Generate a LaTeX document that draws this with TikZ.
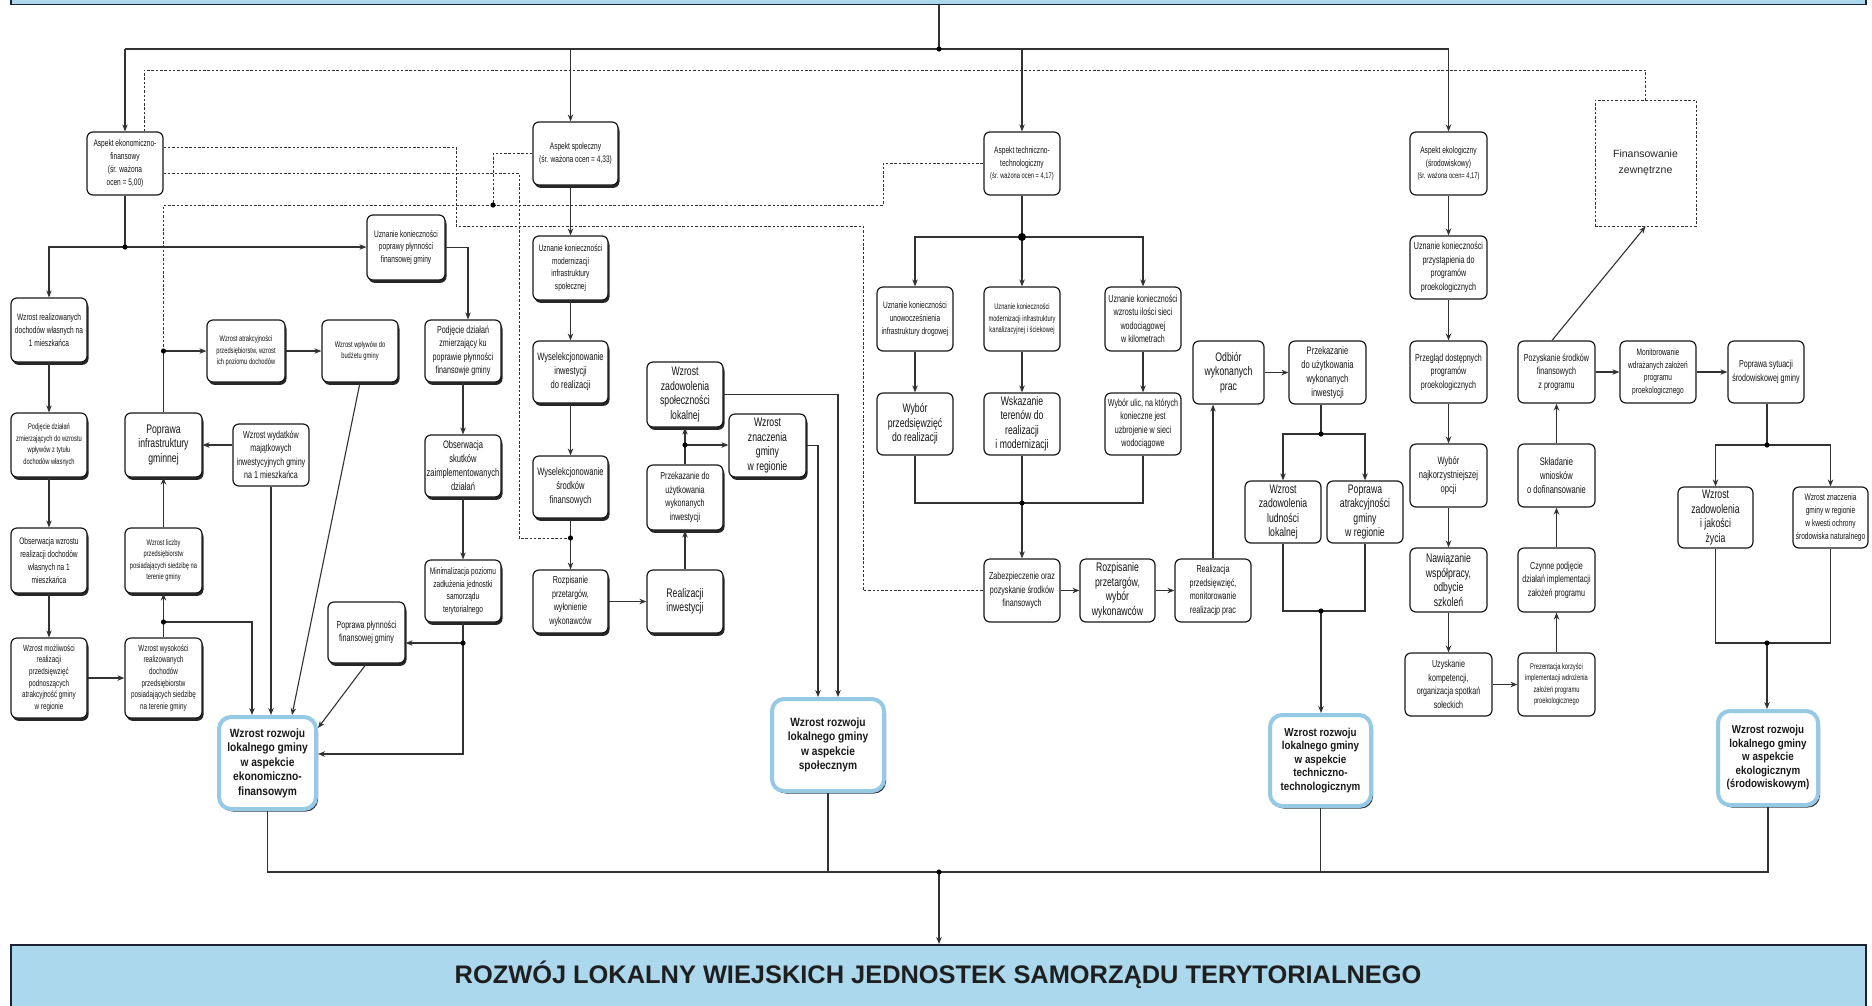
\documentclass[tikz,border=0pt]{standalone}
\usepackage{fontspec}
\setmainfont{Liberation Sans}
\newfontfamily\nsf[FakeStretch=0.7]{Liberation Sans}
\newfontfamily\bsf[FakeStretch=0.85]{Liberation Sans}
\usetikzlibrary{arrows.meta,shadows,calc}

\definecolor{bandblue}{RGB}{172,216,238}
\definecolor{bandline}{RGB}{28,36,52}
\definecolor{resline}{RGB}{150,202,228}
\definecolor{wire}{RGB}{50,50,50}

% font sizes used inside the boxes
\newcommand\dgT{\nsf\fontsize{8.2}{11.5}\selectfont}
\newcommand\dgS{\nsf\fontsize{9.4}{12.8}\selectfont}
\newcommand\dgSx{\nsf\fontsize{9}{11.6}\selectfont}
\newcommand\dgN{\nsf\fontsize{10.2}{13.5}\selectfont}
\newcommand\dgM{\nsf\fontsize{10.8}{14}\selectfont}
\newcommand\dgL{\nsf\fontsize{12.4}{14.5}\selectfont}
\newcommand\dgR{\bsf\bfseries\fontsize{12}{14.5}\selectfont}
\newcommand\dgRs{\bsf\bfseries\fontsize{11.5}{13.5}\selectfont}

\tikzset{
  box/.style 2 args={draw=black!90, line width=1.2pt, rounded corners=6pt, fill=white,
    align=center, inner sep=1pt, minimum width=#1pt, minimum height=#2pt, text=black!92},
  sbox/.style 2 args={box={#1}{#2},
    drop shadow={shadow xshift=1.5pt, shadow yshift=-2.8pt, fill=black!85, opacity=1}},
  result/.style 2 args={draw=resline, line width=4pt, rounded corners=12pt, fill=white,
    align=center, inner sep=1pt, minimum width=#1pt, minimum height=#2pt, text=black!90,
    drop shadow={shadow xshift=2pt, shadow yshift=-2.5pt, fill=black!80, opacity=1}},
  band/.style={draw=bandline, line width=1.5pt, fill=bandblue, inner sep=0pt},
  ln/.style={draw=wire, line width=1.1pt},
  arr/.style={draw=wire, line width=1.1pt, -{Stealth[length=7pt,width=5.5pt]}},
  dsh/.style={draw=wire, line width=1pt, dash pattern=on 2.5pt off 1.8pt},
}

\begin{document}
\begin{tikzpicture}[x=1pt, y=-1pt]
\useasboundingbox (0,0) rectangle (1872,1005);
\fill[white] (0,0) rectangle (1872,1005);

% ---------- bands ----------
\node[band, minimum width=1855pt, minimum height=60pt, anchor=south west] (topband) at (10,5) {};
\node[band, minimum width=1855pt, minimum height=75pt, anchor=north west] (botband) at (10,944) {};
\node[font=\bfseries\fontsize{25.4}{30}\selectfont, text=black!88] (title) at (938,975)
  {ROZWÓJ LOKALNY WIEJSKICH JEDNOSTEK SAMORZĄDU TERYTORIALNEGO};

% ---------- aspect boxes ----------
\node[box={76}{63}, font=\dgS] (a1) at (125,163.5) {Aspekt ekonomiczno-\\finansowy\\(śr. ważona\\ocen = 5,00)};
\node[sbox={85}{63}, font=\dgS] (a2) at (575.5,153.5) {Aspekt społeczny\\(śr. ważona ocen = 4,33)};
\node[box={76}{63}, font=\dgS] (a3) at (1022,163.5) {Aspekt techniczno-\\technologiczny\\{\dgT(śr. ważona ocen = 4,17)}};
\node[box={77}{63}, font=\dgS] (a4) at (1448.5,163.5) {Aspekt ekologiczny\\(środowiskowy)\\{\dgT(śr. ważona ocen= 4,17)}};
\node[dsh, minimum width=101pt, minimum height=126pt, align=center, text=black!85,
  font=\fontsize{10.5}{15.5}\selectfont] (fin) at (1645.5,163) {Finansowanie\\zewnętrzne};

% ---------- economic and financial branch ----------
\node[sbox={78}{65}, font=\dgS] (e2) at (406,247.5) {Uznanie konieczności\\poprawy płynności\\finansowej gminy};
\node[sbox={76}{64}, font=\dgS] (e1) at (49,330) {Wzrost realizowanych\\dochodów własnych na\\1 mieszkańca};
\node[sbox={76}{64}, font=\dgT] (e1b) at (49,445) {Podjęcie działań\\zmierzających do wzrostu\\wpływów z tytułu\\dochodów własnych};
\node[sbox={76}{65}, font=\dgS] (e1c) at (49,560.5) {Obserwacja wzrostu\\realizacji dochodów\\własnych na 1\\mieszkańca};
\node[sbox={76}{80}, font=\dgSx] (e1d) at (49,678) {Wzrost możliwości\\realizacji\\przedsięwzięć\\podnoszących\\atrakcyjność gminy\\w regionie};
\node[sbox={77}{80}, font=\dgSx] (e3) at (163.5,678) {Wzrost wysokości\\realizowanych\\dochodów\\przedsiębiorstw\\posiadających siedzibę\\na terenie gminy};
\node[sbox={77}{65}, font=\dgT] (e4) at (163.5,560.5) {Wzrost liczby\\przedsiębiorstw\\posiadających siedzibę na\\terenie gminy};
\node[sbox={77}{64}, font=\dgL] (e5) at (163.5,445) {Poprawa\\infrastruktury\\gminnej};
\node[sbox={78}{62}, font=\dgT] (e6) at (246,351) {Wzrost atrakcyjności\\przedsiębiorstw, wzrost\\ich poziomu dochodów};
\node[sbox={76}{62}, font=\dgT] (e7) at (360,351) {Wzrost wpływów do\\budżetu gminy};
\node[box={76}{62}, font=\dgN] (e8) at (271,455) {Wzrost wydatków\\majątkowych\\inwestycyjnych gminy\\na 1 mieszkańca};
\node[sbox={77}{61}, font=\dgN] (e9) at (366.5,632.5) {Poprawa płynności\\finansowej gminy};
\node[sbox={76}{62}, font=\dgN] (f1) at (463,351) {Podjęcie działań\\zmierzający ku\\poprawie płynności\\finansowje gminy};
\node[sbox={76}{62}, font=\dgM] (f2) at (463,466) {Obserwacja\\skutków\\zaimplementowanych\\działań};
\node[sbox={76}{62}, font=\dgS] (f3) at (463,591) {Minimalizacja poziomu\\zadłużenia jednostki\\samorządu\\terytorialnego};
\node[result={97}{92}, font=\dgR] (r1) at (267.5,763) {Wzrost rozwoju\\lokalnego gminy\\w aspekcie\\ekonomiczno-\\finansowym};

% ---------- social branch ----------
\node[sbox={75}{64}, font=\dgS] (s1) at (570.5,268) {Uznanie konieczności\\modernizacji\\infrastruktury\\społecznej};
\node[sbox={75}{62}, font=\dgM] (s2) at (570.5,372) {Wyselekcjonowanie\\inwestycji\\do realizacji};
\node[sbox={75}{62}, font=\dgM] (s3) at (570.5,487) {Wyselekcjonowanie\\środków\\finansowych};
\node[sbox={75}{63}, font=\dgN] (s4) at (570.5,601.5) {Rozpisanie\\przetargów,\\wyłonienie\\wykonawców};
\node[sbox={76}{63}, font=\dgL] (s5) at (685,601.5) {Realizacji\\inwestycji};
\node[sbox={76}{65}, font=\dgN] (s6) at (685,497.5) {Przekazanie do\\użytkowania\\wykonanych\\inwestycji};
\node[sbox={76}{65}, font=\dgL] (s7) at (685,394.5) {Wzrost\\zadowolenia\\społeczności\\lokalnej};
\node[sbox={77}{63}, font=\dgL] (s8) at (767.5,445.5) {Wzrost\\znaczenia\\gminy\\w regionie};
\node[result={112}{92}, font=\dgR] (r2) at (828,745) {Wzrost rozwoju\\lokalnego gminy\\w aspekcie\\społecznym};

% ---------- technical branch ----------
\node[box={76}{64}, font=\dgS] (t1) at (915,319) {Uznanie konieczności\\unowocześnienia\\infrastruktury drogowej};
\node[box={76}{64}, font=\dgT] (t2) at (1022,319) {Uznanie konieczności\\modernizacji infrastruktury\\kanalizacyjnej i ściekowej};
\node[box={76}{64}, font=\dgN] (t3) at (1143,319) {Uznanie konieczności\\wzrostu ilości sieci\\wodociągowej\\w kilometrach};
\node[box={76}{62}, font=\dgL] (t4) at (915,424) {Wybór\\przedsięwzięć\\do realizacji};
\node[box={76}{62}, font=\dgL] (t5) at (1022,424) {Wskazanie\\terenów do\\realizacji\\i modernizacji};
\node[box={76}{62}, font=\dgN] (t6) at (1143,424) {Wybór ulic, na których\\konieczne jest\\uzbrojenie w sieci\\wodociągowe};
\node[box={76}{63}, font=\dgN] (t7) at (1022,590.5) {Zabezpieczenie oraz\\pozyskanie środków\\finansowych};
\node[box={75}{63}, font=\dgL] (t8) at (1117.5,590.5) {Rozpisanie\\przetargów,\\wybór\\wykonawców};
\node[box={76}{63}, font=\dgN] (t9) at (1213,590.5) {Realizacja\\przedsięwzięć,\\monitorowanie\\realizacjp prac};
\node[box={71}{63}, font=\dgL] (t10) at (1228.5,372.5) {Odbiór\\wykonanych\\prac};
\node[box={77}{63}, font=\dgM] (t11) at (1327.5,372.5) {Przekazanie\\do użytkowania\\wykonanych\\inwestycji};
\node[box={76}{62}, font=\dgL] (t12) at (1283,512) {Wzrost\\zadowolenia\\ludności\\lokalnej};
\node[box={76}{62}, font=\dgL] (t13) at (1365,512) {Poprawa\\atrakcyjności\\gminy\\w regionie};
\node[result={101}{91}, font=\dgRs] (r3) at (1320.5,760.5) {Wzrost rozwoju\\lokalnego gminy\\w aspekcie\\techniczno-\\technologicznym};

% ---------- ecological branch ----------
\node[box={77}{63}, font=\dgN] (g1) at (1448.5,267.5) {Uznanie konieczności\\przystąpienia do\\programów\\proekologicznych};
\node[box={77}{62}, font=\dgN] (g2) at (1448.5,372) {Przegląd dostępnych\\programów\\proekologicznych};
\node[box={77}{63}, font=\dgM] (g3) at (1448.5,475.5) {Wybór\\najkorzystniejszej\\opcji};
\node[box={77}{64}, font=\dgL] (g4) at (1448.5,580) {Nawiązanie\\współpracy,\\odbycie\\szkoleń};
\node[box={87}{63}, font=\dgN] (g5) at (1448.5,684.5) {Uzyskanie\\kompetencji,\\organizacja spotkań\\sołeckich};
\node[box={77}{63}, font=\dgT] (g6) at (1556.5,684.5) {Prezentacja korzyści\\implementacji wdrożenia\\założeń programu\\proekologicznego};
\node[box={77}{64}, font=\dgN] (g7) at (1556.5,580) {Czynne podjęcie\\działań implementacji\\założeń programu};
\node[box={77}{63}, font=\dgM] (g8) at (1556.5,475.5) {Składanie\\wniosków\\o dofinansowanie};
\node[box={77}{62}, font=\dgN] (g9) at (1556.5,372) {Pozyskanie środków\\finansowych\\z programu};
\node[box={76}{62}, font=\dgS] (g10) at (1658,372) {Monitorowanie\\wdrażanych założeń\\programu\\proekologicznego};
\node[box={76}{62}, font=\dgN] (g11) at (1766,372) {Poprawa sytuacji\\środowiskowej gminy};
\node[box={75}{61}, font=\dgL] (g12) at (1715.5,517.5) {Wzrost\\zadowolenia\\i jakości\\życia};
\node[box={75}{61}, font=\dgS] (g13) at (1830.5,517.5) {Wzrost znaczenia\\gminy w regionie\\w kwesti ochrony\\środowiska naturalnego};
\node[result={100}{94}, font=\dgRs] (r4) at (1768,758) {Wzrost rozwoju\\lokalnego gminy\\w aspekcie\\ekologicznym\\(środowiskowym)};

% ---------- junction points ----------
\coordinate (jtop) at (939,49);
\coordinate (jbot) at (939,872);
\coordinate (je1) at (125,247);
\coordinate (je3) at (163.5,622);
\coordinate (je5) at (163.5,351);
\coordinate (jf3) at (463,643);
\coordinate (jd3) at (570.5,538);
\coordinate (jd4) at (493,205);
\coordinate (js6) at (685,445);
\coordinate (jt) at (1022,237);
\coordinate (jt5) at (1022,503);
\coordinate (jt11) at (1321,434);
\coordinate (jt12) at (1321,611);
\coordinate (jg11) at (1767,445);
\coordinate (jg12) at (1767,643);
\coordinate (dtop) at (144,70);

% ---------- top distribution ----------
\draw[ln] (topband.south -| jtop) -- (jtop);
\draw[ln] (a1.north |- jtop) -- (a4.north |- jtop);
\draw[arr] (jtop -| a1.north) -- (a1.north);
\draw[arr] (jtop -| s1.north) -- (s1.north |- a2.north);
\draw[arr] (jtop -| a3.north) -- (a3.north);
\draw[arr] (jtop -| a4.north) -- (a4.north);

% ---------- dashed links ----------
\draw[dsh] ([xshift=19pt]a1.north) -- (dtop) -| (fin.north);
\draw[dsh] ([yshift=16.5pt]a1.east) -- (456,147) |- (863,226) |- (t7.west);
\draw[dsh] ([yshift=-9.5pt]a1.east) -- (519,173) |- (jd3);
\draw[dsh] (a2.west) -| (jd4);
\draw[dsh] (jd4) -| (je5);
\draw[dsh] (jd4) -- (883,205) |- (a3.west);

% ---------- economic and financial connectors ----------
\draw[ln] (a1) -- (je1);
\draw[arr] (je1) -| (e1);
\draw[arr] (je1) -- (e2.west |- je1);
\draw[arr] (e1) -- (e1b);
\draw[arr] (e1b) -- (e1c);
\draw[arr] (e1c) -- (e1d);
\draw[arr] (e1d) -- (e3);
\draw[ln] (e3) -- (je3);
\draw[arr] (je3) -- (e4);
\draw[arr] (je3) -| ([xshift=-15.5pt]r1.north);
\draw[arr] (e4) -- (e5);
\draw[ln] (e5) -- (je5);
\draw[arr] (je5) -- (e6);
\draw[arr] (e6) -- (e7);
\draw[arr] (e8.west |- e5) -- (e5.east);
\draw[arr] (e8.south) -- (e8.south |- r1.north);
\draw[arr] (e7.south) -- ([xshift=24.5pt]r1.north);
\draw[arr] (e9.south) -- ([yshift=35pt]r1.east);
\draw[arr] (e2.east) -| ([xshift=5pt]f1.north);
\draw[arr] (f1) -- (f2);
\draw[arr] (f2) -- (f3);
\draw[ln] (f3) -- (jf3);
\draw[arr] (jf3) -- (jf3 -| e9.east);
\draw[arr] (jf3) |- ([yshift=9pt]r1.east);

% ---------- social connectors ----------
\draw[arr] (a2.south -| s1.north) -- (s1.north);
\draw[arr] (s1) -- (s2);
\draw[arr] (s2) -- (s3);
\draw[ln] (s3) -- (jd3);
\draw[arr] (jd3) -- (s4);
\draw[arr] (s4) -- (s5);
\draw[arr] (s5) -- (s6);
\draw[ln] (s6) -- (js6);
\draw[arr] (js6) -- (s7);
\draw[arr] (js6) -- (s8.west |- js6);
\draw[arr] (s7.east) -| ([xshift=10pt]r2.north);
\draw[arr] (s8.east) -| ([xshift=-10pt]r2.north);

% ---------- technical connectors ----------
\draw[ln] (a3) -- (jt);
\draw[arr] (jt) -| (t1);
\draw[arr] (jt) -- (t2);
\draw[arr] (jt) -| (t3);
\draw[arr] (t1) -- (t4);
\draw[arr] (t2) -- (t5);
\draw[arr] (t3) -- (t6);
\draw[ln] (t4) |- (jt5);
\draw[ln] (t6) |- (jt5);
\draw[ln] (t5) -- (jt5);
\draw[arr] (jt5) -- (t7);
\draw[arr] (t7) -- (t8);
\draw[arr] (t8) -- (t9);
\draw[arr] (t9.north) -- (t9.north |- t10.south);
\draw[arr] (t10) -- (t11);
\draw[ln] (jt11 |- t11.south) -- (jt11);
\draw[arr] (jt11) -| (t12);
\draw[arr] (jt11) -| (t13);
\draw[ln] (t12) |- (jt12) -| (t13);
\draw[arr] (jt12) -- (jt12 |- r3.north);

% ---------- ecological connectors ----------
\draw[arr] (a4) -- (g1);
\draw[arr] (g1) -- (g2);
\draw[arr] (g2) -- (g3);
\draw[arr] (g3) -- (g4);
\draw[arr] (g4) -- (g5);
\draw[arr] (g5) -- (g6);
\draw[arr] (g6) -- (g7);
\draw[arr] (g7) -- (g8);
\draw[arr] (g8) -- (g9);
\draw[arr] (g9) -- (g10);
\draw[arr] (g10) -- (g11);
\draw[arr] ([xshift=-4.5pt]g9.north) -- (fin.south);
\draw[ln] (g11.south -| jg11) -- (jg11);
\draw[arr] (jg11) -| (g12);
\draw[arr] (jg11) -| (g13);
\draw[ln] (g12) |- (jg12) -| (g13);
\draw[arr] (jg12) -- (jg12 |- r4.north);

% ---------- collection into the bottom band ----------
\draw[ln] (r1) |- (jbot);
\draw[ln] (r4) |- (jbot);
\draw[ln] (r2.south) -- (r2.south |- jbot);
\draw[ln] (r3.south) -- (r3.south |- jbot);
\draw[arr] (jbot) -- (jbot |- botband.north);

% ---------- junction dots ----------
\foreach \p in {jtop,jbot,je1,je3,je5,jf3,jd3,jd4,js6,jt5,jt11,jt12,jg11,jg12}
  \fill[black] (\p) circle[radius=2.6pt];
\fill[black] (jt) circle[radius=4pt];
\end{tikzpicture}
\end{document}
